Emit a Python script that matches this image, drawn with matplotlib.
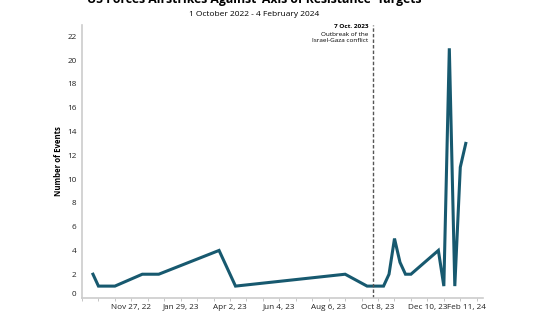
import matplotlib
matplotlib.use('Agg')
import matplotlib.pyplot as plt
import matplotlib.transforms as mtransforms
import pandas as pd

# weekly counts (week start dates)
week_start = ['2022-10-09', '2022-10-16', '2022-11-06', '2022-12-11', '2023-01-01',
              '2023-03-19', '2023-04-09', '2023-08-27', '2023-09-24', '2023-10-15',
              '2023-10-22', '2023-10-29', '2023-11-05', '2023-11-12', '2023-11-19',
              '2023-12-24', '2023-12-31', '2024-01-07', '2024-01-14', '2024-01-21',
              '2024-01-28']
events = [2, 1, 1, 2, 2,
          4, 1, 2, 1, 1,
          2, 5, 3, 2, 2,
          4, 1, 21, 1, 11,
          13]
tick_dates = ['2022-11-27', '2023-01-29', '2023-04-02', '2023-06-04',
              '2023-08-06', '2023-10-08', '2023-12-10', '2024-02-11']
tick_labels = ['Nov 27, 22', 'Jan 29, 23', 'Apr 2, 23', 'Jun 4, 23',
               'Aug 6, 23', 'Oct 8, 23', 'Dec 10, 23', 'Feb 11, 24']
y_ticks = [0, 2, 4, 6, 8, 10, 12, 14, 16, 18, 20, 22]
marker_date = '2023-10-01'

plt.rcParams['font.family'] = ['Open Sans', 'DejaVu Sans']

dates = pd.to_datetime(week_start)
fig = plt.figure(figsize=(5.55, 3.12), dpi=100)
ax = fig.add_axes([82/555, 1 - 298/312, (483-82)/555, (298-24.5)/312])

ax.plot(dates, events, color='#17596f', lw=2.2, solid_joinstyle='miter')
ax.axvline(pd.Timestamp(marker_date), color='#555555', lw=1, ls=(0, (2.5, 1.5)))

ax.set_xlim(pd.Timestamp('2022-09-25'), pd.Timestamp('2024-02-19'))
ax.set_ylim(0, 23)

ax.set_xticks(pd.to_datetime(tick_dates))
ax.set_xticklabels(tick_labels)
ax.set_xticks(pd.date_range('2022-09-25', '2024-02-19', freq='21D'), minor=True)
ax.tick_params(axis='x', which='both', length=2.5, width=0.6, color='#bbbbbb',
               labelsize=5.9, labelcolor='#222222', pad=1.5)
ax.set_yticks(y_ticks)
ax.tick_params(axis='y', length=0, labelsize=5.9, labelcolor='#222222', pad=4)
ylabs = ax.get_yticklabels()
ylabs[0].set_va('bottom')
xlabs = ax.get_xticklabels()
xlabs[-1].set_transform(xlabs[-1].get_transform() +
                        mtransforms.ScaledTranslation(-10/100, 0, fig.dpi_scale_trans))

for s in ['top', 'right']:
    ax.spines[s].set_visible(False)
for s in ['left', 'bottom']:
    ax.spines[s].set_color('#cccccc')
    ax.spines[s].set_linewidth(1.2)

ax.set_ylabel('Number of Events', fontsize=5.6, fontweight='bold', labelpad=3)

# annotation
ax.text(368/555, 1 - 27/312, '7 Oct. 2023', transform=fig.transFigure,
        ha='right', va='center', fontsize=4.6, fontweight='bold')
ax.text(368/555, 1 - 31.5/312, 'Outbreak of the\nIsrael-Gaza conflict', transform=fig.transFigure,
        ha='right', va='top', fontsize=4.6, linespacing=1.5)

fig.text(254/555, 1 - 0/312, "US Forces Airstrikes Against 'Axis of Resistance' Targets",
         ha='center', va='center', fontsize=8.8, fontweight='bold')
fig.text(254/555, 1 - 15/312, '1 October 2022 - 4 February 2024',
         ha='center', va='center', fontsize=6.0)

fig.savefig('out.png', dpi=100)
